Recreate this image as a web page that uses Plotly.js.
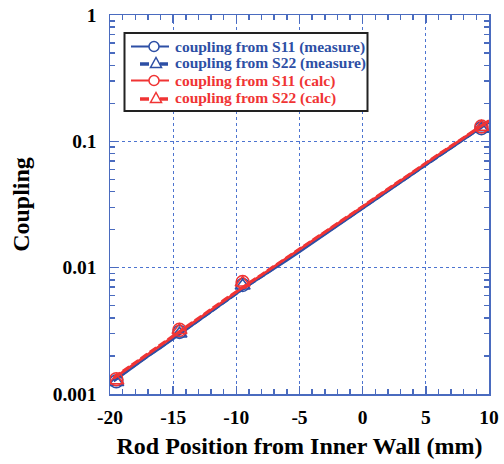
<!DOCTYPE html>
<html>
<head>
<meta charset="utf-8">
<script src="https://cdn.plot.ly/plotly-3.0.1.min.js"></script>
<style>html,body{margin:0;padding:0;background:#fff;}#chart{width:504px;height:464px;}</style>
</head>
<body>
<div id="chart"></div>
<script>
// Rod position (mm) for the continuous curves
const xPos = [-19.7,-19,-18,-17,-16,-15,-14,-13,-12,-11,-10,-9,-8,-7,-6,-5,-4,-3,-2,-1,0,1,2,3,4,5,6,7,8,9,10];
const measS11 = [0.00126,0.00142,0.00167,0.00198,0.00231,0.00273,0.00322,0.00376,0.00449,0.00524,0.00621,0.00727,0.00842,0.00985,0.0114,0.0133,0.0156,0.0182,0.0214,0.0249,0.0293,0.0343,0.0404,0.0471,0.0553,0.0648,0.0757,0.0882,0.103,0.120,0.141];
const measS22 = [0.00128,0.00144,0.00169,0.00200,0.00234,0.00276,0.00325,0.00381,0.00453,0.00530,0.00627,0.00733,0.00850,0.00993,0.0115,0.0134,0.0157,0.0184,0.0216,0.0251,0.0296,0.0346,0.0407,0.0475,0.0557,0.0653,0.0762,0.0888,0.104,0.121,0.142];
const calcS11 = [0.00133,0.00149,0.00175,0.00206,0.00242,0.00284,0.00334,0.00394,0.00465,0.00548,0.00646,0.00752,0.00875,0.0102,0.0119,0.0138,0.0162,0.0189,0.0222,0.0259,0.0304,0.0356,0.0418,0.0489,0.0573,0.0671,0.0783,0.0912,0.106,0.124,0.145];
const calcS22 = [0.00135,0.00151,0.00177,0.00208,0.00244,0.00287,0.00337,0.00397,0.00469,0.00553,0.00651,0.00758,0.00882,0.0103,0.0120,0.0139,0.0163,0.0191,0.0224,0.0261,0.0306,0.0359,0.0421,0.0493,0.0577,0.0676,0.0789,0.0918,0.107,0.125,0.146];

// Marker positions
const markX = [-19.5,-14.5,-9.5,9.4];
const markMeasS11 = [0.00126,0.0031,0.0073,0.127];
const markMeasS22 = [0.00124,0.0030,0.0072,0.125];
const markCalcS11 = [0.00131,0.00322,0.0077,0.131];
const markCalcS22 = [0.00128,0.0032,0.0076,0.130];

const seriesNames = ['coupling from S11 (measure)','coupling from S22 (measure)','coupling from S11 (calc)','coupling from S22 (calc)'];
const yTickVals = [0.001,0.01,0.1,1];
const yTickText = ['0.001','0.01','0.1','1'];
const yMinorVals = [0.002,0.003,0.004,0.005,0.006,0.007,0.008,0.009,0.02,0.03,0.04,0.05,0.06,0.07,0.08,0.09,0.2,0.3,0.4,0.5,0.6,0.7,0.8,0.9];
const xTickVals = [-20,-15,-10,-5,0,5,10];
const xMinorVals = [-19,-18,-17,-16,-14,-13,-12,-11,-9,-8,-7,-6,-4,-3,-2,-1,1,2,3,4,6,7,8,9];

const BLUE = '#2d4fa5';
const RED = '#f03434';
const AXIS = '#4a6bbf';
const GRID = '#4d74d0';
const SERIF = 'Liberation Serif, Times New Roman, serif';

const series = [
  {y: measS11, my: markMeasS11, color: BLUE, dash: 'solid', width: 2.2, sym: 'circle-open', dashed: false},
  {y: measS22, my: markMeasS22, color: BLUE, dash: '8px,3px', width: 2.8, sym: 'triangle-up-open', dashed: true},
  {y: calcS11, my: markCalcS11, color: RED, dash: 'solid', width: 2.6, sym: 'circle-open', dashed: false},
  {y: calcS22, my: markCalcS22, color: RED, dash: '8px,3px', width: 2.8, sym: 'triangle-up-open', dashed: true}
];

const traces = [];
series.forEach((s, i) => {
  traces.push({x: xPos, y: s.y, mode: 'lines', line: {color: s.color, width: s.width, dash: s.dash},
    showlegend: false, hoverinfo: 'skip'});
  traces.push({x: markX, y: s.my, mode: 'markers', marker: {symbol: s.sym, size: 13, color: s.color, line: {width: 1.5, color: s.color}},
    showlegend: false});
});

// Manual legend (drawn in plot-area paper coordinates)
const M = {l: 110, r: 15, t: 15, b: 70};
const PW = 504 - M.l - M.r, PH = 464 - M.t - M.b;
const px = v => (v - M.l) / PW;
const py = v => (464 - M.b - v) / PH;

const shapes = [];
const annotations = [];
shapes.push({type: 'rect', xref: 'paper', yref: 'paper', x0: px(124.5), x1: px(367.5), y0: py(111), y1: py(33),
  line: {color: '#222', width: 2}, fillcolor: '#fff', layer: 'above'});
const rowY = [46.5, 63, 80.5, 98];
series.forEach((s, i) => {
  const y = rowY[i];
  if (!s.dashed) {
    shapes.push({type: 'line', xref: 'paper', yref: 'paper', x0: px(131), x1: px(169), y0: py(y), y1: py(y),
      line: {color: s.color, width: 2}, layer: 'above'});
    shapes.push({type: 'circle', xref: 'paper', yref: 'paper', x0: px(149), x1: px(159), y0: py(y + 5), y1: py(y - 5),
      line: {color: s.color, width: 1.5}, fillcolor: '#fff', layer: 'above'});
  } else {
    shapes.push({type: 'line', xref: 'paper', yref: 'paper', x0: px(140), x1: px(149), y0: py(y + 1), y1: py(y + 1),
      line: {color: s.color, width: 3.5}, layer: 'above'});
    shapes.push({type: 'line', xref: 'paper', yref: 'paper', x0: px(160), x1: px(168), y0: py(y + 1), y1: py(y + 1),
      line: {color: s.color, width: 3.5}, layer: 'above'});
    const p = 'M' + px(150.5) + ',' + py(y + 4.5) + ' L' + px(161.5) + ',' + py(y + 4.5) + ' L' + px(156) + ',' + py(y - 5.5) + ' Z';
    shapes.push({type: 'path', xref: 'paper', yref: 'paper', path: p, line: {color: s.color, width: 1.5}, layer: 'above'});
  }
  annotations.push({xref: 'paper', yref: 'paper', x: px(172.5), y: py(y), xanchor: 'left', yanchor: 'middle',
    showarrow: false, text: seriesNames[i],
    font: {family: SERIF, size: 15.5, color: s.color, weight: 'bold'}});
});

const tickFont = {family: SERIF, size: 19.5, color: '#000', weight: 'bold'};
const titleFont = {family: SERIF, size: 24, color: '#000', weight: 'bold'};

const layout = {
  width: 504, height: 464,
  margin: M,
  paper_bgcolor: '#fff', plot_bgcolor: '#fff',
  showlegend: false,
  shapes: shapes,
  annotations: annotations,
  xaxis: {
    range: [-20, 10], tickmode: 'array', tickvals: xTickVals, ticktext: xTickVals.map(String),
    ticks: 'inside', ticklen: 8, tickwidth: 1.5, tickcolor: AXIS,
    showline: true, linecolor: AXIS, linewidth: 1.5, mirror: 'ticks',
    showgrid: true, gridcolor: GRID, griddash: 'dot', gridwidth: 1,
    zeroline: false, tickfont: tickFont, ticklabelstandoff: 5,
    minor: {tickmode: 'array', tickvals: xMinorVals, ticks: 'inside', ticklen: 5, tickcolor: AXIS, tickwidth: 1.5, showgrid: false},
    title: {text: 'Rod Position from Inner Wall (mm)', font: titleFont, standoff: 10}
  },
  yaxis: {
    type: 'log', range: [-3, 0], tickmode: 'array', tickvals: yTickVals, ticktext: yTickText,
    ticks: 'inside', ticklen: 8, tickwidth: 1.5, tickcolor: AXIS,
    showline: true, linecolor: AXIS, linewidth: 1.5, mirror: 'ticks',
    showgrid: true, gridcolor: GRID, griddash: 'dot', gridwidth: 1,
    zeroline: false, tickfont: tickFont, ticklabelstandoff: 8,
    minor: {tickmode: 'array', tickvals: yMinorVals, ticks: 'inside', ticklen: 5, tickcolor: AXIS, tickwidth: 1.5, showgrid: false},
    title: {text: 'Coupling', font: titleFont, standoff: 16}
  }
};

Plotly.newPlot('chart', traces, layout, {staticPlot: true, displayModeBar: false});
</script>
</body>
</html>
